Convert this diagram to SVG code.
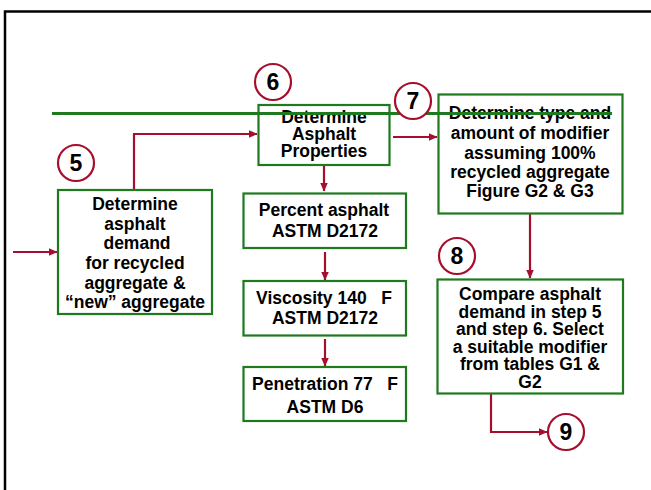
<svg xmlns="http://www.w3.org/2000/svg" width="651" height="490" viewBox="0 0 651 490">
<defs>
<marker id="ah" markerWidth="9" markerHeight="8" refX="8.5" refY="4" orient="auto" markerUnits="userSpaceOnUse">
<path d="M0,0 L9,4 L0,8 Z" fill="#a50f2d"/>
</marker>
<style>
.box{fill:#fff;stroke:#1f7a1f;stroke-width:2.2}
.t{font-family:"Liberation Sans",Arial,sans-serif;font-weight:bold;font-size:17.5px;fill:#000;text-anchor:middle;white-space:pre}
.n{font-family:"Liberation Sans",Arial,sans-serif;font-weight:bold;font-size:23px;fill:#000;text-anchor:middle}
.c{fill:#fff;stroke:#a50f2d;stroke-width:2.2}
.con{fill:none;stroke:#a50f2d;stroke-width:2.2;marker-end:url(#ah)}
</style>
</defs>
<rect x="0" y="0" width="651" height="490" fill="#fff"/>
<rect x="5" y="11.5" width="700" height="600" fill="none" stroke="#000" stroke-width="2.5"/>

<g id="connectors">
<path class="con" d="M13,252 H57"/>
<path class="con" d="M134,189 V134 H257"/>
<path class="con" d="M393,137 H437"/>
<path class="con" d="M324,166 V191"/>
<path class="con" d="M325,252 V280"/>
<path class="con" d="M325,339 V366"/>
<path class="con" d="M530,214 V278"/>
<path class="con" d="M491,394 V432 H547"/>
</g>

<g id="node5">
<rect class="box" x="58" y="190" width="154" height="124"/>
<text class="t" x="135" y="210">Determine</text>
<text class="t" x="135" y="229.5">asphalt</text>
<text class="t" x="137" y="249">demand</text>
<text class="t" x="135" y="269">for recycled</text>
<text class="t" x="135" y="288.5">aggregate &amp;</text>
<text class="t" x="135" y="308">“new” aggregate</text>
</g>

<g id="node6">
<rect class="box" x="258.5" y="105" width="131" height="60"/>
<text class="t" x="324" y="123">Determine</text>
<text class="t" x="324" y="140">Asphalt</text>
<text class="t" x="324" y="157">Properties</text>
</g>

<g id="node7">
<rect class="box" x="438.5" y="94.5" width="184" height="119"/>
<text class="t" x="530" y="119">Determine type and</text>
<text class="t" x="530" y="139">amount of modifier</text>
<text class="t" x="530" y="158.5">assuming 100%</text>
<text class="t" x="530" y="178">recycled aggregate</text>
<text class="t" x="530" y="197">Figure G2 &amp; G3</text>
</g>

<g id="green-line">
<line x1="52" y1="113.5" x2="612" y2="113.5" stroke="#1f7a1f" stroke-width="3"/>
</g>

<g id="percent">
<rect class="box" x="243.5" y="193.5" width="162.5" height="54.5"/>
<text class="t" x="324" y="216">Percent asphalt</text>
<text class="t" x="325" y="237">ASTM D2172</text>
</g>

<g id="viscosity">
<rect class="box" x="243.5" y="281" width="162.5" height="54.5"/>
<text class="t" x="324" y="304" xml:space="preserve">Viscosity 140   F</text>
<text class="t" x="325" y="324">ASTM D2172</text>
</g>

<g id="penetration">
<rect class="box" x="243.5" y="367" width="162.5" height="54"/>
<text class="t" x="325" y="390" xml:space="preserve">Penetration 77   F</text>
<text class="t" x="325" y="413">ASTM D6</text>
</g>

<g id="node8">
<rect class="box" x="437.5" y="279.5" width="185.5" height="114"/>
<text class="t" x="530" y="300">Compare asphalt</text>
<text class="t" x="530" y="317.5">demand in step 5</text>
<text class="t" x="530" y="335">and step 6. Select</text>
<text class="t" x="530" y="352.5">a suitable modifier</text>
<text class="t" x="530" y="370">from tables G1 &amp;</text>
<text class="t" x="530" y="387.5">G2</text>
</g>

<g id="circle5"><circle class="c" cx="76" cy="163" r="18"/><text class="n" x="76" y="171">5</text></g>
<g id="circle6"><circle class="c" cx="273" cy="82" r="18"/><text class="n" x="273" y="90">6</text></g>
<g id="circle7"><circle class="c" cx="413" cy="101" r="18"/><text class="n" x="413" y="109">7</text></g>
<g id="circle8"><circle class="c" cx="457" cy="256" r="18"/><text class="n" x="457" y="264">8</text></g>
<g id="circle9"><circle class="c" cx="566" cy="432" r="18"/><text class="n" x="566" y="440">9</text></g>
</svg>
